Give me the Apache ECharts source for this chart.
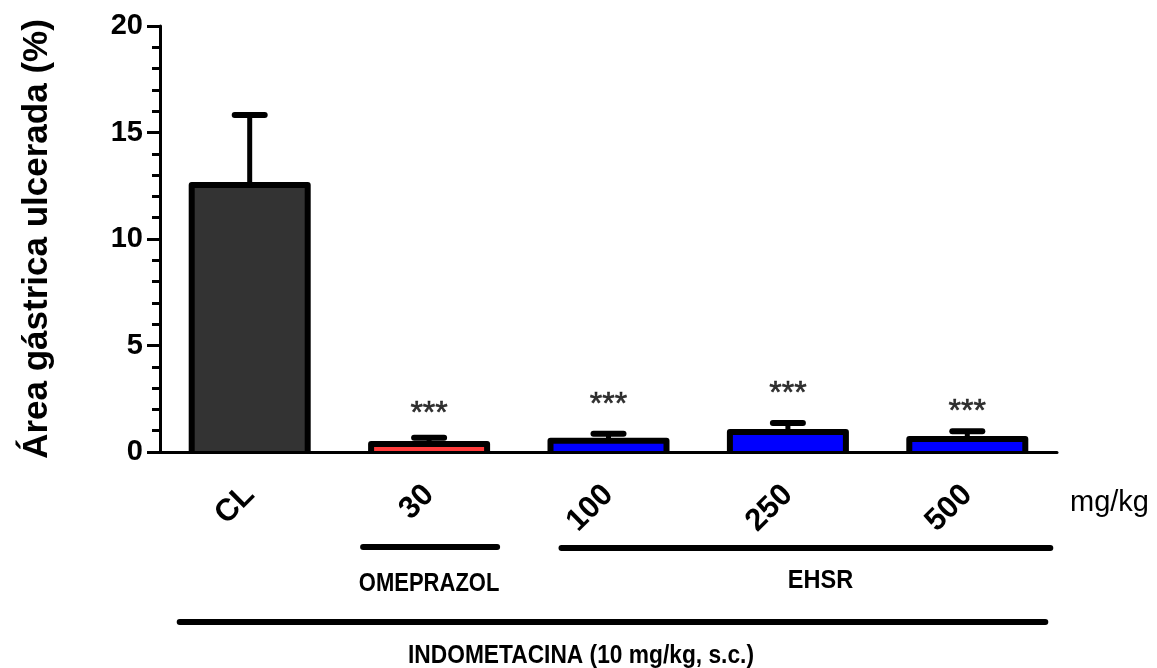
<!DOCTYPE html>
<html><head><meta charset="utf-8">
<script src="https://cdn.jsdelivr.net/npm/echarts@6/dist/echarts.min.js"></script>
<style>html,body{margin:0;padding:0;background:#fff}#c{width:1157px;height:668px}</style>
</head><body><div id="c"></div>
<script>
const categories = ['CL', '30', '100', '250', '500'];
const means = [12.53, 0.38, 0.53, 0.94, 0.61];
const sems = [3.29, 0.29, 0.33, 0.42, 0.36];
const barColors = ['#333333', '#ff3b3b', '#0000ff', '#0000ff', '#0000ff'];
const sigMarks = ['', '***', '***', '***', '***'];
const sigLevels = [null, 2.02, 2.44, 2.96, 2.11];
const yMin = 0, yMax = 20, yStep = 5;
const unitLabel = 'mg/kg';
const yTitle = 'Área gástrica ulcerada (%)';
const groupNames = ['OMEPRAZOL', 'EHSR'];
const groupFrom = [1, 2];
const groupTo = [1, 4];
const treatment = 'INDOMETACINA (10 mg/kg, s.c.)';

const FONT = "'Liberation Sans', Arial, Helvetica, sans-serif";
const BAR_W = 116;
const chart = echarts.init(document.getElementById('c'), null, {renderer: 'canvas'});

const barData = means.map((v, i) => ({value: v, itemStyle: {color: barColors[i]}}));
const outlineData = means.map((v, i) => [i, v]);
const errData = means.map((v, i) => [i, v, sems[i]]);
const sigData = sigLevels.map((v, i) => v == null ? null : {value: [i, v], name: sigMarks[i]}).filter(d => d);

chart.setOption({
  animation: false,
  backgroundColor: '#fff',
  grid: {left: 160, right: 100, top: 26, bottom: 216, containLabel: false},
  xAxis: {
    type: 'category', data: categories, z: 10,
    name: unitLabel, nameLocation: 'end', nameGap: 13,
    nameTextStyle: {fontFamily: FONT, fontSize: 29, color: '#000', verticalAlign: 'top', padding: [36, 0, 0, 0]},
    axisLine: {lineStyle: {color: '#000', width: 3}},
    axisTick: {alignWithLabel: true, length: 13, lineStyle: {color: '#000', width: 3}},
    axisLabel: {rotate: 45, fontFamily: FONT, fontWeight: 'bold', fontSize: 31, color: '#000', margin: 38}
  },
  yAxis: {
    type: 'value', min: yMin, max: yMax, interval: yStep, z: 10,
    name: yTitle, nameLocation: 'middle', nameGap: 105,
    nameTextStyle: {fontFamily: FONT, fontWeight: 'bold', fontSize: 35, color: '#000'},
    axisLine: {show: true, lineStyle: {color: '#000', width: 3}},
    axisTick: {show: true, length: 13, lineStyle: {color: '#000', width: 3}},
    minorTick: {show: true, splitNumber: 5, length: 8, lineStyle: {color: '#000', width: 3}},
    splitLine: {show: false},
    axisLabel: {fontFamily: FONT, fontWeight: 'bold', fontSize: 29, color: '#000', margin: 17}
  },
  series: [
    {
      type: 'bar', data: barData, barWidth: BAR_W, z: 3,
      itemStyle: {borderWidth: 0}
    },
    {
      type: 'custom', data: outlineData, z: 4,
      renderItem: function (params, api) {
        const top = api.coord([api.value(0), api.value(1)]);
        const base = api.coord([api.value(0), 0]);
        const h = BAR_W / 2;
        return {
          type: 'polyline',
          shape: {points: [[top[0] - h, base[1]], [top[0] - h, top[1]], [top[0] + h, top[1]], [top[0] + h, base[1]]]},
          style: {stroke: '#000', lineWidth: 6, fill: null, lineJoin: 'round'}
        };
      }
    },
    {
      type: 'custom', data: errData, z: 5,
      renderItem: function (params, api) {
        const base = api.coord([api.value(0), api.value(1)]);
        const top = api.coord([api.value(0), api.value(1) + api.value(2)]);
        return {
          type: 'group', children: [
            {type: 'line', shape: {x1: base[0], y1: base[1], x2: top[0], y2: top[1]}, style: {stroke: '#000', lineWidth: 5}},
            {type: 'line', shape: {x1: top[0] - 15, y1: top[1], x2: top[0] + 15, y2: top[1]}, style: {stroke: '#000', lineWidth: 6, lineCap: 'round'}}
          ]
        };
      }
    },
    {
      type: 'scatter', data: sigData, symbolSize: 0, z: 6,
      label: {show: true, position: 'inside', formatter: p => p.name, fontFamily: FONT, fontSize: 32, color: '#000',
        textBorderColor: '#000', textBorderWidth: 0.6, offset: [0, 5]}
    }
  ]
});

// group annotations below the axis, positioned from category coordinates
const cx = i => chart.convertToPixel({xAxisIndex: 0}, i);
const lineStyle = {stroke: '#000', lineWidth: 6, lineCap: 'round'};
const textStyleBase = {fontFamily: FONT, fontWeight: 'bold', fontSize: 25, fill: '#000', textAlign: 'center', textVerticalAlign: 'middle'};
const gfx = [];
const oFrom = cx(groupFrom[0]) - 66, oTo = cx(groupTo[0]) + 68;
gfx.push({type: 'line', shape: {x1: oFrom, y1: 547, x2: oTo, y2: 547}, style: lineStyle});
gfx.push({type: 'text', x: cx(groupFrom[0]), y: 584, scaleX: 0.88, style: Object.assign({text: groupNames[0]}, textStyleBase)});
const eFrom = cx(groupFrom[1]) - 47, eTo = cx(groupTo[1]) + 83;
gfx.push({type: 'line', shape: {x1: eFrom, y1: 548, x2: eTo, y2: 548}, style: lineStyle});
gfx.push({type: 'text', x: cx(groupFrom[1]) + 212, y: 581, scaleX: 0.94, style: Object.assign({text: groupNames[1]}, textStyleBase)});
const iFrom = cx(0) - 70, iTo = cx(categories.length - 1) + 78;
gfx.push({type: 'line', shape: {x1: iFrom, y1: 622, x2: iTo, y2: 622}, style: lineStyle});
gfx.push({type: 'text', x: 581, y: 656, scaleX: 0.91, style: Object.assign({text: treatment}, textStyleBase)});

chart.setOption({graphic: gfx});
</script>
</body></html>
